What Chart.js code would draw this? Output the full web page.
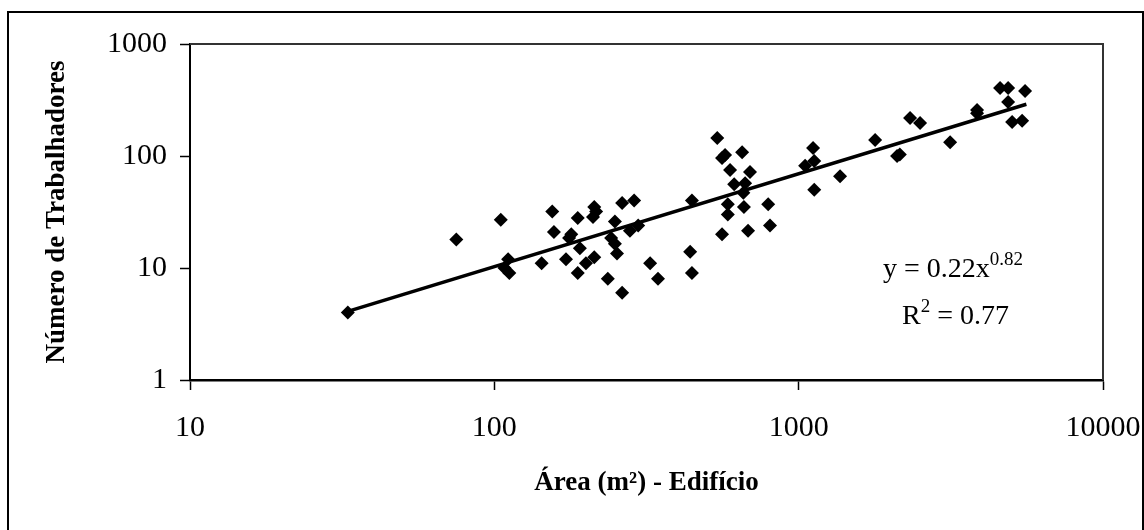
<!DOCTYPE html>
<html>
<head>
<meta charset="utf-8">
<script src="https://cdn.jsdelivr.net/npm/chart.js@4"></script>
<style>
  html, body { margin: 0; padding: 0; background: #fff; }
  #wrap { width: 1144px; height: 530px; }
</style>
</head>
<body>
<div id="wrap"><canvas id="chart" width="1144" height="530"></canvas></div>
<script>
// building area (m²) and number of workers
const areaX = [33, 75, 105, 108, 111, 112, 143, 155, 157, 172, 176, 179, 188, 191, 188, 200,
  211, 213, 213, 216, 236, 249, 242, 249, 253, 263, 263, 288, 279, 297, 325, 345,
  440, 446, 446, 540, 573, 560, 652, 595, 692, 614, 667, 658, 585, 661, 794, 585,
  560, 682, 805, 1115, 1125, 1050, 1125, 1368, 1783, 2105, 2150, 2323, 2506, 3145,
  3857, 3857, 4590, 4878, 5546, 4878, 5027, 5423];
const workersY = [4, 18, 27, 10, 12, 9, 11, 32, 21, 12, 18.5, 20, 28, 15, 9, 11,
  28.5, 35, 12.5, 32, 8, 26, 18.5, 16.5, 13.5, 6, 38, 40, 21.5, 24, 11, 8,
  14, 9, 40, 145, 102, 96, 108, 75, 72, 56, 57, 47, 37, 35, 37, 30,
  20, 21.5, 24, 118, 50, 82, 90, 66, 139, 100, 103, 218, 197, 133,
  258, 241, 405, 405, 380, 303, 201, 206];

// power trend line end points (y = 0.22x^0.82)
const trendX = [33, 5600];
const trendY = [4.1, 290];

const xTicks = [10, 100, 1000, 10000];
const yTicks = [1, 10, 100, 1000];

const xTitle = 'Área (m²) - Edifício';
const yTitle = 'Número de Trabalhadores';
const eqMain = 'y = 0.22x';
const eqExp = '0.82';
const r2Lead = 'R';
const r2Exp = '2';
const r2Tail = ' = 0.77';

const serif = '"Liberation Serif", "Times New Roman", serif';

const scatterData = areaX.map((x, i) => ({ x: x, y: workersY[i] }));
const trendData = trendX.map((x, i) => ({ x: x, y: trendY[i] }));

// frame, plot box, axis titles and the equation
const decorPlugin = {
  id: 'decor',
  beforeDraw(chart) {
    const ctx = chart.ctx;
    ctx.save();
    ctx.fillStyle = '#fff';
    ctx.fillRect(0, 0, chart.width, chart.height);
    ctx.strokeStyle = '#000';
    ctx.lineWidth = 2;
    ctx.strokeRect(8, 12, 1135, 600);
    ctx.restore();
  },
  afterDraw(chart) {
    const ctx = chart.ctx;
    const a = chart.chartArea;
    ctx.save();
    // top and right sides of the plot box
    ctx.strokeStyle = '#333';
    ctx.lineWidth = 2;
    ctx.beginPath();
    ctx.moveTo(a.left, a.top);
    ctx.lineTo(a.right, a.top);
    ctx.lineTo(a.right, a.bottom);
    ctx.stroke();

    ctx.fillStyle = '#000';
    // x title
    ctx.font = 'bold 27px ' + serif;
    ctx.textAlign = 'center';
    ctx.textBaseline = 'middle';
    ctx.fillText(xTitle, (a.left + a.right) / 2, 483);
    // y title
    ctx.save();
    ctx.translate(57, (a.top + a.bottom) / 2);
    ctx.rotate(-Math.PI / 2);
    ctx.fillText(yTitle, 0, 0);
    ctx.restore();

    // equation
    ctx.textAlign = 'left';
    ctx.textBaseline = 'alphabetic';
    ctx.font = '28px ' + serif;
    let x = 883;
    ctx.fillText(eqMain, x, 277);
    x += ctx.measureText(eqMain).width;
    ctx.font = '19px ' + serif;
    ctx.fillText(eqExp, x, 265);

    x = 902;
    ctx.font = '28px ' + serif;
    ctx.fillText(r2Lead, x, 324);
    x += ctx.measureText(r2Lead).width;
    ctx.font = '19px ' + serif;
    ctx.fillText(r2Exp, x, 312);
    x += ctx.measureText(r2Exp).width;
    ctx.font = '28px ' + serif;
    ctx.fillText(r2Tail, x, 324);
    ctx.restore();
  }
};

const ctx = document.getElementById('chart').getContext('2d');
new Chart(ctx, {
  type: 'scatter',
  data: {
    datasets: [{
      label: 'dados',
      data: scatterData,
      pointStyle: 'rectRot',
      pointRadius: 7,
      pointBackgroundColor: '#000',
      pointBorderColor: '#000',
      pointBorderWidth: 0,
      order: 2
    }, {
      type: 'line',
      label: 'tendência',
      data: trendData,
      borderColor: '#000',
      borderWidth: 3.5,
      pointRadius: 0,
      fill: false,
      order: 1
    }]
  },
  options: {
    responsive: false,
    animation: false,
    layout: { padding: { left: 0, top: 44, right: 41, bottom: 0 } },
    plugins: {
      legend: { display: false },
      tooltip: { enabled: false }
    },
    scales: {
      x: {
        type: 'logarithmic',
        min: 10,
        max: 10000,
        afterBuildTicks: (scale) => { scale.ticks = xTicks.map(v => ({ value: v })); },
        afterFit: (scale) => {
          scale.height = 150;
          scale.paddingLeft = 0;
          scale.paddingRight = 0;
        },
        grid: { drawOnChartArea: false, color: '#000', tickLength: 10, tickWidth: 1.5 },
        border: { color: '#000', width: 2.5 },
        ticks: {
          color: '#000',
          font: { family: serif, size: 30 },
          padding: 20,
          maxRotation: 0,
          autoSkip: false,
          callback: (v) => String(v)
        }
      },
      y: {
        type: 'logarithmic',
        min: 1,
        max: 1000,
        afterBuildTicks: (scale) => { scale.ticks = yTicks.map(v => ({ value: v })); },
        afterFit: (scale) => {
          scale.width = 190;
          scale.paddingTop = 0;
          scale.paddingBottom = 0;
        },
        grid: { drawOnChartArea: false, color: '#000', tickLength: 10, tickWidth: 1.5 },
        border: { color: '#000', width: 2 },
        ticks: {
          color: '#000',
          font: { family: serif, size: 30 },
          padding: 13,
          autoSkip: false,
          callback: (v) => String(v)
        }
      }
    }
  },
  plugins: [decorPlugin]
});
</script>
</body>
</html>
